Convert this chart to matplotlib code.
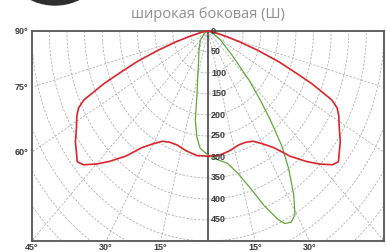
import numpy as np
import matplotlib
matplotlib.use("Agg")
import matplotlib.pyplot as plt
from matplotlib.patches import Ellipse

# light distribution, angle from nadir (deg) -> intensity (cd)
# red plane is symmetric, values given for one side
red_ang = [0, 6, 12, 18, 22, 26, 30, 34, 38, 42, 45, 48, 50, 52, 55, 58,
           61.5, 63.5, 65, 67, 68.5, 70, 72, 74, 76, 80, 85, 90]
red_cd = [298, 298, 292, 285, 286, 292, 310, 335, 378, 418, 448, 476, 484, 473,
          459, 440, 423, 410, 388, 320, 260, 215, 150, 95, 55, 20, 5, 0]

green_ang = [-90, -60, -45, -30, -20, -15, -11.5, -9.5, -7, -4.5, 0, 4, 10, 14,
             18, 21, 24, 25.5, 27.5, 29.5, 32, 35, 37.5, 40, 42, 45, 50, 60, 70, 90]
green_cd = [0, 10, 30, 50, 77, 110, 155, 215, 255, 280, 295, 305, 320, 348,
            395, 445, 492, 508, 513, 502, 460, 400, 345, 275, 225, 165, 90, 40, 15, 0]

ring_values = [0, 50, 100, 150, 200, 250, 300, 350, 400, 450]
left_angle_labels = [90, 75, 60]
bottom_angle_labels = [-45, -30, -15, 15, 30]

title = "широкая боковая (Ш)"

W, H = 387, 252
GRID = "#aaaaaa"


def polar_xy(ang, cd):
    a = np.deg2rad(np.asarray(ang, dtype=float))
    r = np.asarray(cd, dtype=float)
    return r * np.sin(a), -r * np.cos(a)


def draw_grid(ax):
    t = np.linspace(-np.pi / 2, np.pi / 2, 400)
    for r in range(50, 750, 50):
        ax.plot(r * np.sin(t), -r * np.cos(t), color=GRID, lw=0.55,
                ls=(0, (3, 2)), zorder=1)
    for a in [15, 30, 45, 60, 75]:
        for s in (-1, 1):
            x, y = polar_xy([s * a, s * a], [0, 900])
            ax.plot(x, y, color=GRID, lw=0.55, ls=(0, (3, 2)), zorder=1)
    ax.plot([0, 0], [0, -500], color="#555555", lw=1.3, zorder=2)


def main():
    fig = plt.figure(figsize=(W / 100, H / 100), dpi=100)
    left, right, top, bottom = 31.7, 384, 31, 241
    ax = fig.add_axes([left / W, 1 - bottom / H, (right - left) / W, (bottom - top) / H])
    ax.set_xlim(-500, 500)
    ax.set_ylim(-500, 0)
    ax.set_xticks([])
    ax.set_yticks([])
    for sp in ax.spines.values():
        sp.set_color("#555555")
        sp.set_linewidth(1.3)

    draw_grid(ax)

    # red curve, mirrored to both sides
    full_ang = [-a for a in red_ang[::-1]] + red_ang[1:]
    full_cd = red_cd[::-1] + red_cd[1:]
    x, y = polar_xy(full_ang, full_cd)
    ax.plot(x, y, color="#d8262c", lw=1.2, zorder=4, clip_on=False)

    x, y = polar_xy(green_ang, green_cd)
    ax.plot(x, y, color="#5fa83a", lw=0.9, zorder=3, clip_on=False)

    lab = dict(fontsize=6.5, fontweight="bold", color="#3a3a3a",
               family=["Liberation Sans", "DejaVu Sans"])
    for v in ring_values:
        ax.text(9, -v, str(v), ha="left", va="center", zorder=5, **lab)

    for a in left_angle_labels:
        yv = -500 / np.tan(np.deg2rad(a)) if a < 90 else 0
        ax.text(-510, yv, f"{a}°", ha="right", va="center", clip_on=False, **lab)

    for a in bottom_angle_labels:
        xv = 500 * np.tan(np.deg2rad(a))
        ax.text(xv, -504, f"{abs(a)}°", ha="center", va="top", clip_on=False, **lab)

    fig.text(207.7 / W, 1 - 15 / H, title, ha="center", va="center",
             color="#8f8f8f", fontsize=10.5, family=["Open Sans", "DejaVu Sans"])

    # dark round icon cut by the top edge
    fig.add_artist(Ellipse((55 / W, 1 + 50 / H), 110 / W, 110 / H,
                           transform=fig.transFigure, color="#2e2e2e"))

    fig.savefig("out.png", dpi=100)


if __name__ == "__main__":
    main()
